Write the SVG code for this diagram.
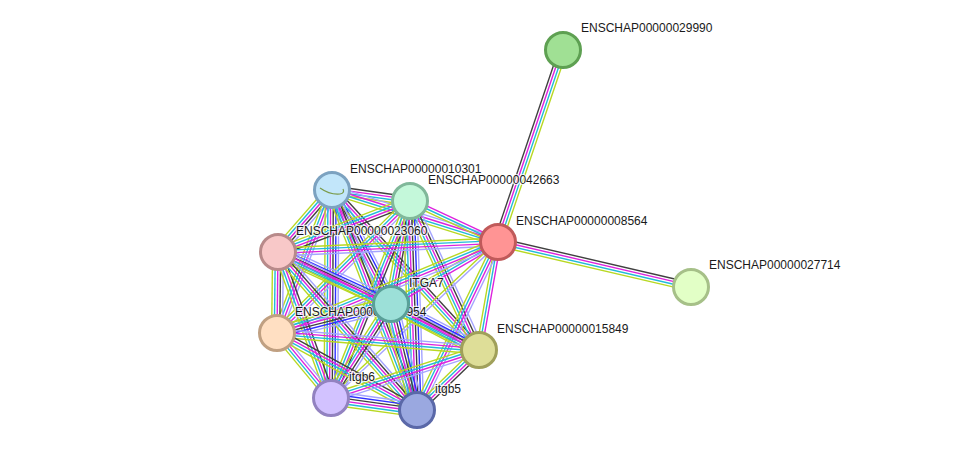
<svg xmlns="http://www.w3.org/2000/svg" width="975" height="456" viewBox="0 0 975 456">
<style>
.k{stroke:#404040}.m{stroke:#dd22dd}.c{stroke:#22bbd8}.y{stroke:#b8d822}.b{stroke:#2f2fff}.a{stroke:#a4a4ff}
line{stroke-width:1.4;fill:none}
.node circle{stroke-width:3}
.lbl{font-family:"Liberation Sans",Arial,sans-serif;font-size:12px;fill:#1a1a1a;stroke:#ffffff;stroke-width:2.5;stroke-opacity:0.75;paint-order:stroke;stroke-linejoin:round}
</style>
<defs>
<g id="b6"><line class="a" x2="1" y1="-6.75" y2="-6.75"/><line class="b" x2="1" y1="-4.05" y2="-4.05"/><line class="k" x2="1" y1="-1.35" y2="-1.35"/><line class="m" x2="1" y1="1.35" y2="1.35"/><line class="c" x2="1" y1="4.05" y2="4.05"/><line class="y" x2="1" y1="6.75" y2="6.75"/></g>
<g id="b5"><line class="a" x2="1" y1="-5.4" y2="-5.4"/><line class="k" x2="1" y1="-2.7" y2="-2.7"/><line class="m" x2="1" y1="0" y2="0"/><line class="c" x2="1" y1="2.7" y2="2.7"/><line class="y" x2="1" y1="5.4" y2="5.4"/></g>
<g id="b4"><line class="k" x2="1" y1="-4.05" y2="-4.05"/><line class="m" x2="1" y1="-1.35" y2="-1.35"/><line class="c" x2="1" y1="1.35" y2="1.35"/><line class="y" x2="1" y1="4.05" y2="4.05"/></g>
<g id="b4a"><line class="a" x2="1" y1="-4.05" y2="-4.05"/><line class="m" x2="1" y1="-1.35" y2="-1.35"/><line class="c" x2="1" y1="1.35" y2="1.35"/><line class="y" x2="1" y1="4.05" y2="4.05"/></g>
<g id="b3"><line class="m" x2="1" y1="-2.7" y2="-2.7"/><line class="c" x2="1" y1="0" y2="0"/><line class="y" x2="1" y1="2.7" y2="2.7"/></g>
<g id="b2"><line class="a" x2="1" y1="-1.35" y2="-1.35"/><line class="y" x2="1" y1="1.35" y2="1.35"/></g>
</defs>
<rect width="975" height="456" fill="#ffffff"/>
<g id="connectors">
<use href="#b4" transform="translate(498,242) rotate(-71.3) scale(202.7,1)"/>
<use href="#b4" transform="translate(498,242) rotate(13.1) scale(198.2,1)"/>
<use href="#b4" transform="translate(332,190) rotate(8.0) scale(78.8,1)"/>
<use href="#b4a" transform="translate(332,190) rotate(17.4) scale(174,1)"/>
<use href="#b5" transform="translate(332,190) rotate(131.1) scale(82.2,1)"/>
<use href="#b6" transform="translate(332,190) rotate(62.6) scale(128.4,1)"/>
<use href="#b4a" transform="translate(332,190) rotate(111.0) scale(153.2,1)"/>
<use href="#b4" transform="translate(332,190) rotate(47.4) scale(217.3,1)"/>
<use href="#b6" transform="translate(332,190) rotate(90.3) scale(208,1)"/>
<use href="#b5" transform="translate(332,190) rotate(68.9) scale(235.8,1)"/>
<use href="#b3" transform="translate(410,201) rotate(25.0) scale(97.1,1)"/>
<use href="#b4" transform="translate(410,201) rotate(158.9) scale(141.5,1)"/>
<use href="#b5" transform="translate(410,201) rotate(100.5) scale(104.7,1)"/>
<use href="#b4a" transform="translate(410,201) rotate(135.2) scale(187.4,1)"/>
<use href="#b5" transform="translate(410,201) rotate(65.2) scale(164.2,1)"/>
<use href="#b4" transform="translate(410,201) rotate(111.9) scale(212.2,1)"/>
<use href="#b6" transform="translate(410,201) rotate(88.1) scale(209.1,1)"/>
<use href="#b4a" transform="translate(498,242) rotate(177.4) scale(220.2,1)"/>
<use href="#b3" transform="translate(498,242) rotate(149.9) scale(123.7,1)"/>
<use href="#b4a" transform="translate(498,242) rotate(157.6) scale(239,1)"/>
<use href="#b3" transform="translate(498,242) rotate(100.0) scale(109.7,1)"/>
<use href="#b2" transform="translate(498,242) rotate(136.95) scale(228.5,1)"/>
<use href="#b4a" transform="translate(498,242) rotate(115.7) scale(186.5,1)"/>
<use href="#b6" transform="translate(278,252) rotate(24.7) scale(124.4,1)"/>
<use href="#b5" transform="translate(278,252) rotate(90.7) scale(81,1)"/>
<use href="#b4a" transform="translate(278,252) rotate(26.0) scale(223.6,1)"/>
<use href="#b4" transform="translate(278,252) rotate(70.05) scale(155.3,1)"/>
<use href="#b5" transform="translate(278,252) rotate(48.7) scale(210.4,1)"/>
<use href="#b6" transform="translate(391,304) rotate(165.7) scale(117.6,1)"/>
<use href="#b6" transform="translate(391,304) rotate(27.6) scale(99.3,1)"/>
<use href="#b5" transform="translate(391,304) rotate(122.55) scale(111.5,1)"/>
<use href="#b6" transform="translate(391,304) rotate(76.2) scale(109.1,1)"/>
<use href="#b4a" transform="translate(277,333) rotate(4.8) scale(202.7,1)"/>
<use href="#b4a" transform="translate(277,333) rotate(50.3) scale(84.5,1)"/>
<use href="#b4" transform="translate(277,333) rotate(28.8) scale(159.8,1)"/>
<use href="#b4a" transform="translate(479,350) rotate(162.0) scale(155.6,1)"/>
<use href="#b4" transform="translate(479,350) rotate(135.9) scale(86.3,1)"/>
<use href="#b6" transform="translate(331,398) rotate(7.9) scale(86.8,1)"/>
</g>
<g id="labels">
<text class="lbl" x="581" y="32">ENSCHAP00000029990</text>
<text class="lbl" x="350" y="173">ENSCHAP00000010301</text>
<text class="lbl" x="428" y="184">ENSCHAP00000042663</text>
<text class="lbl" x="516" y="225">ENSCHAP00000008564</text>
<text class="lbl" x="296" y="235">ENSCHAP00000023060</text>
<text class="lbl" x="709" y="269">ENSCHAP00000027714</text>
<text class="lbl" x="409" y="287">ITGA7</text>
<text class="lbl" x="295" y="316">ENSCHAP00000000954</text>
<text class="lbl" x="497" y="333">ENSCHAP00000015849</text>
<text class="lbl" x="349" y="381">itgb6</text>
<text class="lbl" x="435" y="393">itgb5</text>
</g>
<g id="n29990" class="node"><circle cx="563" cy="50" r="17.5" fill="#a0e094" stroke="#5ea052"/></g>
<g id="n10301" class="node"><circle cx="332" cy="190" r="17.5" fill="#c2e6fa" stroke="#7ca2c0"/><path d="M320,188 Q330,195 340,194 Q345,193 343,189" fill="none" stroke="#7a9a48" stroke-width="1.2"/></g>
<g id="n42663" class="node"><circle cx="410" cy="201" r="17.5" fill="#c4f8da" stroke="#80b89a"/></g>
<g id="n8564" class="node"><circle cx="498" cy="242" r="17.5" fill="#ff9494" stroke="#c05a5a"/></g>
<g id="n23060" class="node"><circle cx="278" cy="252" r="17.5" fill="#f8c8c8" stroke="#b88a8a"/></g>
<g id="n27714" class="node"><circle cx="691" cy="287" r="17.5" fill="#e2ffc6" stroke="#a6c088"/></g>
<g id="nITGA7" class="node"><circle cx="391" cy="304" r="17.5" fill="#9ce0d8" stroke="#5aa098"/></g>
<g id="n954" class="node"><circle cx="277" cy="333" r="17.5" fill="#ffdfc2" stroke="#c0a082"/></g>
<g id="n15849" class="node"><circle cx="479" cy="350" r="17.5" fill="#dede98" stroke="#a0a05a"/></g>
<g id="nitgb6" class="node"><circle cx="331" cy="398" r="17.5" fill="#d2c2ff" stroke="#9282c0"/></g>
<g id="nitgb5" class="node"><circle cx="417" cy="410" r="17.5" fill="#9aa8e0" stroke="#5a68a8"/></g>
</svg>
